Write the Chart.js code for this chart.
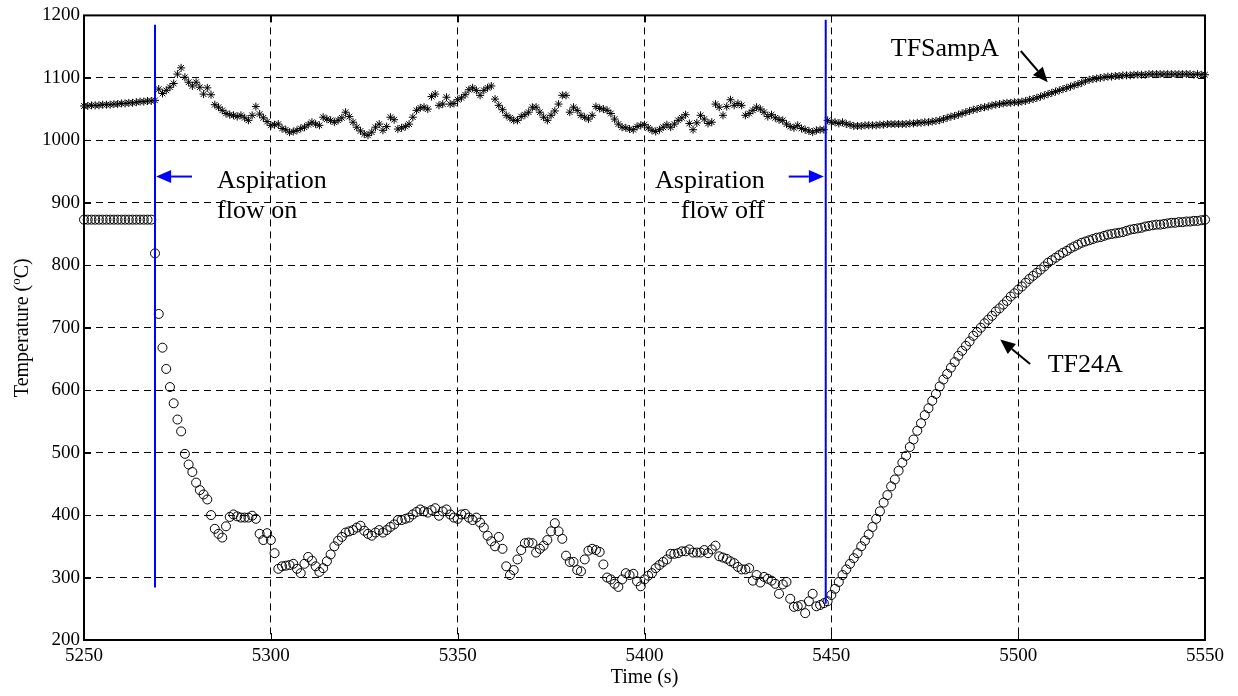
<!DOCTYPE html>
<html><head><meta charset="utf-8">
<script src="https://cdn.jsdelivr.net/npm/chart.js@4/dist/chart.umd.min.js"></script>
<style>html,body{margin:0;padding:0;background:#fff;}#wrap{width:1238px;height:696px;}</style>
</head><body><div id="wrap"><canvas id="c" width="1238" height="696"></canvas></div>
<script>
// ---- data (sampled once per second, starting at 5250 s) ----
const startTime = 5250;
const sampleStep = 1;
const seriesNames = ['TFSampA', 'TF24A'];
const tfSampA = [
 1055,1055,1056,1056,1056,1057,1057,1057,1058,1058,
 1059,1059,1060,1060,1061,1062,1062,1063,1063,1064,
 1082,1075,1080,1085,1091,1106,1116,1101,1093,1087,
 1093,1085,1074,1084,1073,1057,1053,1048,1043,1041,
 1040,1038,1040,1036,1032,1040,1054,1042,1036,1030,
 1024,1025,1026,1019,1017,1013,1014,1016,1019,1021,
 1025,1029,1026,1024,1037,1034,1032,1029,1032,1036,
 1045,1038,1029,1021,1015,1010,1008,1013,1021,1026,
 1016,1022,1037,1033,1018,1020,1022,1026,1037,1048,
 1052,1053,1050,1070,1074,1056,1058,1069,1058,1059,
 1065,1068,1073,1081,1084,1080,1072,1080,1084,1087,
 1066,1056,1049,1040,1036,1032,1032,1038,1041,1045,
 1053,1053,1045,1037,1032,1040,1047,1058,1072,1072,
 1045,1053,1048,1040,1037,1034,1040,1054,1051,1050,
 1048,1043,1034,1026,1021,1020,1018,1017,1022,1024,
 1025,1020,1016,1014,1017,1021,1025,1021,1026,1032,
 1036,1041,1027,1017,1028,1040,1034,1027,1029,1058,
 1053,1040,1054,1065,1056,1059,1056,1040,1043,1048,
 1053,1050,1045,1038,1041,1036,1033,1032,1026,1022,
 1020,1024,1019,1017,1015,1013,1016,1017,1017,1032,
 1029,1029,1027,1029,1026,1025,1023,1023,1023,1024,
 1024,1024,1024,1025,1025,1026,1026,1026,1026,1026,
 1026,1027,1027,1028,1028,1029,1029,1030,1031,1032,
 1034,1036,1038,1039,1041,1043,1045,1047,1049,1050,
 1052,1053,1054,1056,1057,1058,1059,1060,1060,1061,
 1061,1062,1063,1065,1066,1068,1070,1072,1074,1076,
 1078,1080,1082,1084,1086,1088,1090,1092,1095,1097,
 1098,1099,1100,1101,1102,1102,1103,1103,1104,1104,
 1104,1105,1105,1105,1105,1106,1106,1106,1106,1106,
 1106,1106,1106,1106,1106,1106,1106,1105,1106,1105,
 1105
];
const tf24A = [
 873,873,873,873,873,873,873,873,873,873,
 873,873,873,873,873,873,873,873,873,819,
 722,668,634,605,579,553,534,498,481,469,
 452,440,433,425,400,378,370,364,382,397,
 401,398,396,396,396,399,394,370,360,371,
 360,339,314,318,319,320,322,314,307,322,
 333,327,318,309,315,326,337,350,359,365,
 372,374,376,380,383,375,370,367,372,376,
 372,376,381,385,392,392,394,396,401,405,
 409,406,404,408,411,399,406,409,401,396,
 394,401,402,396,392,396,388,380,367,358,
 350,365,346,318,304,312,329,344,355,356,
 355,340,346,351,360,374,387,374,362,335,
 325,325,312,310,329,343,346,344,341,321,
 300,297,290,285,297,307,304,306,294,286,
 297,303,307,315,320,325,329,338,338,339,
 342,342,345,340,340,340,344,339,345,351,
 334,332,330,326,323,317,313,313,315,295,
 304,292,301,298,295,290,274,289,293,266,
 253,254,256,243,262,274,254,256,259,262,
 272,282,293,304,313,322,331,339,350,359,
 369,381,394,406,420,432,446,457,471,484,
 495,509,521,535,547,560,571,583,594,606,
 617,626,636,645,655,663,671,678,687,693,
 700,707,713,719,726,731,737,743,750,755,
 761,766,772,778,783,788,793,798,804,808,
 812,816,820,823,827,830,833,836,838,840,
 842,844,845,847,849,850,851,852,853,855,
 857,858,859,860,862,863,864,865,865,866,
 867,868,868,869,869,870,870,871,871,872,
 873
];
const xTickValues = [5250, 5300, 5350, 5400, 5450, 5500, 5550];
const yTickValues = [200, 300, 400, 500, 600, 700, 800, 900, 1000, 1100, 1200];
// event markers (time, temperature span)
const eventTimes = [5269.0, 5448.5];
const eventLow = [284, 258];
const eventHigh = [1185, 1193];
// annotation texts (time, temperature of baseline)
const noteTexts = ['Aspiration', 'flow on', 'Aspiration', 'flow off', 'TFSampA', 'TF24A'];
const noteTimes = [5285.6, 5285.6, 5432.2, 5432.2, 5465.9, 5507.9];
const noteTemps = [923, 875, 923, 875, 1135, 629];
const noteAlign = ['left', 'left', 'right', 'right', 'left', 'left'];
// arrows (tail -> tip), in data units
const arrowTail = [[5278.9, 942], [5438.6, 942], [5500.7, 1143], [5503.2, 642]];
const arrowTip = [[5269.3, 942], [5448.0, 942], [5507.9, 1093], [5495.2, 681]];
const arrowColor = ['#0000ff', '#0000ff', '#000000', '#000000'];

const toPoints = arr => arr.map((v, i) => ({x: startTime + i * sampleStep, y: v}));
const SERIF = "'Liberation Serif','Times New Roman',serif";

const decor = {
  id: 'decor',
  afterDatasetsDraw(chart) {
    const {ctx, chartArea: a, scales: {x, y}} = chart;
    ctx.save();
    ctx.setLineDash([]);
    // blue event lines
    ctx.strokeStyle = '#0000ff';
    ctx.lineWidth = 2;
    eventTimes.forEach((t, i) => {
      const px = x.getPixelForValue(t);
      ctx.beginPath();
      ctx.moveTo(px, y.getPixelForValue(eventLow[i]));
      ctx.lineTo(px, y.getPixelForValue(eventHigh[i]));
      ctx.stroke();
    });
    // arrows
    arrowTail.forEach((tl, i) => {
      const x0 = x.getPixelForValue(tl[0]), y0 = y.getPixelForValue(tl[1]);
      const x1 = x.getPixelForValue(arrowTip[i][0]), y1 = y.getPixelForValue(arrowTip[i][1]);
      const ang = Math.atan2(y1 - y0, x1 - x0);
      const hl = 15, hw = 6.5;
      const bx = x1 - hl * Math.cos(ang), by = y1 - hl * Math.sin(ang);
      ctx.strokeStyle = arrowColor[i];
      ctx.fillStyle = arrowColor[i];
      ctx.lineWidth = 2;
      ctx.beginPath(); ctx.moveTo(x0, y0); ctx.lineTo(bx, by); ctx.stroke();
      ctx.beginPath();
      ctx.moveTo(x1, y1);
      ctx.lineTo(bx + hw * Math.sin(ang), by - hw * Math.cos(ang));
      ctx.lineTo(bx - hw * Math.sin(ang), by + hw * Math.cos(ang));
      ctx.closePath(); ctx.fill();
    });
    // annotation texts
    ctx.fillStyle = '#000';
    ctx.font = '26px ' + SERIF;
    ctx.textBaseline = 'alphabetic';
    noteTexts.forEach((s, i) => {
      ctx.textAlign = noteAlign[i];
      ctx.fillText(s, x.getPixelForValue(noteTimes[i]), y.getPixelForValue(noteTemps[i]));
    });
    // frame
    ctx.strokeStyle = '#000';
    ctx.lineWidth = 2;
    ctx.strokeRect(a.left, a.top, a.right - a.left, a.bottom - a.top);
    // inward tick marks
    ctx.lineWidth = 1;
    const tl = 7;
    x.ticks.forEach(t => {
      const px = Math.round(x.getPixelForValue(t.value)) + 0.5;
      ctx.beginPath();
      ctx.moveTo(px, a.bottom); ctx.lineTo(px, a.bottom - tl);
      ctx.moveTo(px, a.top); ctx.lineTo(px, a.top + tl);
      ctx.stroke();
    });
    y.ticks.forEach(t => {
      const py = Math.round(y.getPixelForValue(t.value)) + 0.5;
      ctx.beginPath();
      ctx.moveTo(a.left, py); ctx.lineTo(a.left + tl, py);
      ctx.moveTo(a.right, py); ctx.lineTo(a.right - tl, py);
      ctx.stroke();
    });
    // axis titles
    ctx.font = '20px ' + SERIF;
    ctx.textAlign = 'center';
    ctx.textBaseline = 'middle';
    ctx.fillText('Time (s)', (a.left + a.right) / 2, 678);
    // y title with superscript
    ctx.translate(22, (a.top + a.bottom) / 2);
    ctx.rotate(-Math.PI / 2);
    const p1 = 'Temperature (', sup = 'o', p2 = 'C)';
    const f = '20px ' + SERIF, fs = '13px ' + SERIF;
    ctx.font = f; const w1 = ctx.measureText(p1).width, w3 = ctx.measureText(p2).width;
    ctx.font = fs; const w2 = ctx.measureText(sup).width;
    let sx = -(w1 + w2 + w3) / 2;
    ctx.textAlign = 'left';
    ctx.textBaseline = 'alphabetic';
    ctx.font = f; ctx.fillText(p1, sx, 6); sx += w1;
    ctx.font = fs; ctx.fillText(sup, sx, -2); sx += w2;
    ctx.font = f; ctx.fillText(p2, sx, 6);
    ctx.restore();
  }
};

new Chart(document.getElementById('c'), {
  type: 'scatter',
  data: {
    datasets: [
      {label: seriesNames[0], data: toPoints(tfSampA), pointStyle: 'star', pointRadius: 4,
       borderColor: '#000', backgroundColor: 'rgba(0,0,0,0)', pointBorderWidth: 1, showLine: false, clip: false},
      {label: seriesNames[1], data: toPoints(tf24A), pointStyle: 'circle', pointRadius: 4.5,
       borderColor: '#000', backgroundColor: 'rgba(0,0,0,0)', pointBorderWidth: 1, showLine: false, clip: false}
    ]
  },
  options: {
    responsive: false, animation: false, devicePixelRatio: 1,
    layout: {padding: {top: 12, right: 33, bottom: 0, left: 0}},
    plugins: {legend: {display: false}, tooltip: {enabled: false}},
    scales: {
      x: {
        type: 'linear', min: 5250, max: 5550,
        afterBuildTicks: s => { s.ticks = xTickValues.map(v => ({value: v})); },
        afterFit: s => { s.height = 56; },
        grid: {color: '#000', lineWidth: 1, drawTicks: false},
        border: {display: false, dash: [7, 5]},
        ticks: {color: '#000', padding: 5, maxRotation: 0, font: {family: SERIF, size: 19},
                callback: v => String(v)}
      },
      y: {
        type: 'linear', min: 200, max: 1200,
        afterBuildTicks: s => { s.ticks = yTickValues.map(v => ({value: v})); },
        afterFit: s => { s.width = 84; },
        grid: {color: '#000', lineWidth: 1, drawTicks: false},
        border: {display: false, dash: [7, 5]},
        ticks: {color: '#000', padding: 4, font: {family: SERIF, size: 19},
                callback: v => String(v)}
      }
    }
  },
  plugins: [decor]
});
</script></body></html>
